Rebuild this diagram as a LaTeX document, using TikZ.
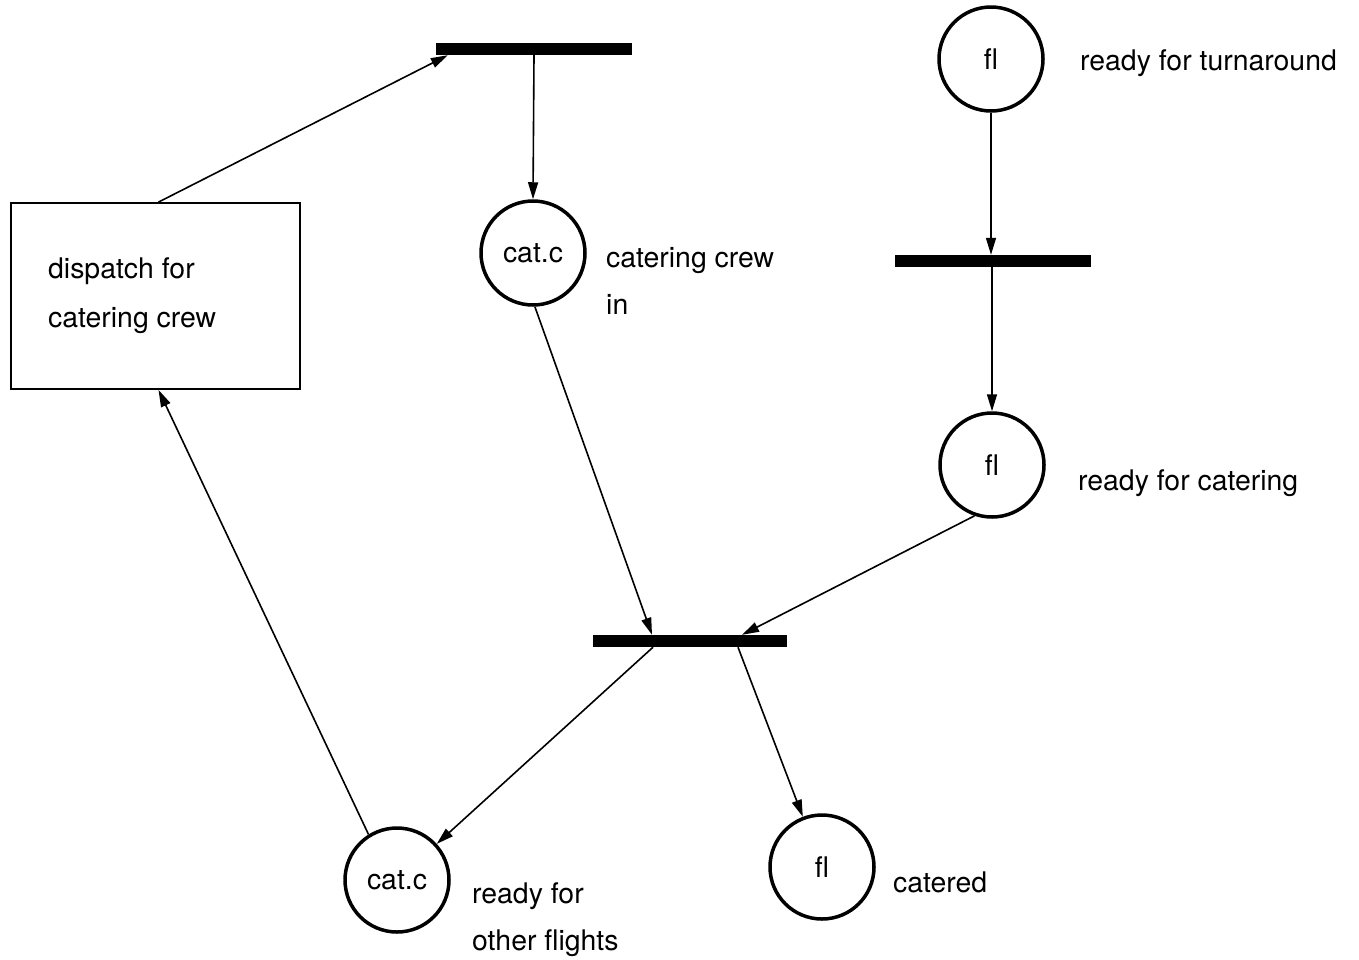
\documentclass[tikz,border=0pt]{standalone}
\usepackage{fontspec}
\setmainfont{TeX Gyre Heros}
\usetikzlibrary{arrows.meta,calc}
\begin{document}
\begin{tikzpicture}[x=1pt,y=-1pt,
  font=\fontsize{28.4}{34}\selectfont,
  place/.style={circle,draw,line width=3.5pt,minimum size=104pt,inner sep=0pt},
  trans/.style={rectangle,fill=black,minimum height=12pt,inner sep=0pt},
  lbl/.style={anchor=base west,inner sep=0pt},
  arc/.style={line width=1.6pt,-{Triangle[length=17pt,width=10pt]}}]
\useasboundingbox (0,0) rectangle (1359,959);

% transitions
\node[trans,minimum width=196pt] (t1) at (534,49) {};
\node[trans,minimum width=196pt] (t2) at (993,261) {};
\node[trans,minimum width=194pt] (t3) at (690,641) {};

% places
\node[place] (p1) at (991,59) {fl};
\node[place] (c1) at (533,253) {cat.c};
\node[place] (p2) at (992,465) {fl};
\node[place] (c2) at (397,880) {cat.c};
\node[place] (p3) at (822,867) {fl};

% dispatch box
\node[draw,line width=1.8pt,minimum width=289pt,minimum height=186pt,inner sep=0pt] (box) at (155.5,296) {};
\node[lbl] (boxa) at (48,278) {dispatch for};
\node[lbl] (boxb) at (48,327) {catering crew};

% place labels
\node[lbl] (l1) at (1080,70) {ready for turnaround};
\node[lbl] (l2a) at (606,267) {catering crew};
\node[lbl] (l2b) at (606,314) {in};
\node[lbl] (l3) at (1078,490) {ready for catering};
\node[lbl] (l4a) at (472,903) {ready for};
\node[lbl] (l4b) at (472,950) {other flights};
\node[lbl] (l5) at (893,892) {catered};

% arc end points on the bars
\coordinate (t1in) at ($(t1.south west)+(12,0)$);
\coordinate (t3in1) at ($(t3.north)+(-38,0)$);
\coordinate (t3in2) at ($(t3.north)+(52,0)$);
\coordinate (t3out1) at ($(t3.south)+(-37,0)$);
\coordinate (t3out2) at ($(t3.south)+(48,0)$);
\coordinate (boxtop) at ($(box.north)+(3,0)$);
\coordinate (boxbot) at ($(box.south)+(3,0)$);

% arcs
\draw[arc] (boxtop) -- (t1in);
\draw[arc] (t1.south) -- (c1.north);
\draw[arc] (p1.south) -- (p1.south |- t2.north);
\draw[arc] (p2.north |- t2.south) -- (p2.north);
\draw[arc] (c1.-88) -- (t3in1);
\draw[arc] (p2.-109) -- (t3in2);
\draw[arc] (t3out1) -- (c2);
\draw[arc] (t3out2) -- (p3);
\draw[arc] (c2.122) -- (boxbot);
\end{tikzpicture}
\end{document}
